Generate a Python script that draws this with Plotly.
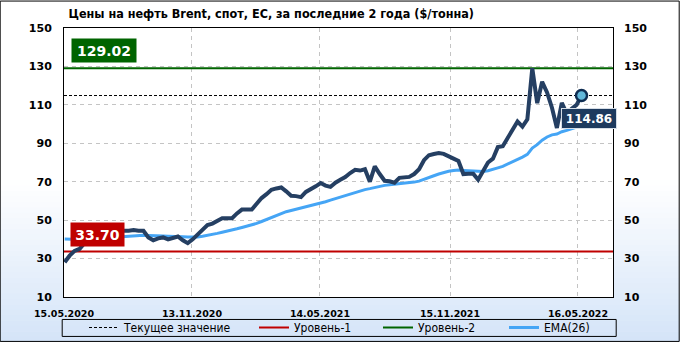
import plotly.graph_objects as go
import pandas as pd

# ---------------- data ----------------
title_text = "Цены на нефть Brent, спот, ЕС, за последние 2 года ($/тонна)"
dates = pd.date_range("2020-05-16", periods=106, freq="7D")
price = [28.1, 31.5, 34.0, 35.0, 38.0, 41.0, 43.0, 44.0, 44.0, 43.5,
         44.0, 44.5, 44.5, 44.5, 44.8, 44.5, 44.5, 41.0, 39.5, 40.5,
         41.0, 40.0, 41.0, 41.5, 39.5, 38.0, 40.0, 42.5, 45.0, 47.5,
         48.2, 49.5, 51.0, 51.0, 51.0, 53.5, 55.5, 55.5, 55.5, 58.5,
         61.5, 63.5, 65.8, 66.5, 67.0, 65.0, 62.7, 62.5, 62.0, 64.7,
         66.0, 67.6, 69.3, 68.0, 67.3, 69.5, 71.0, 72.4, 74.5, 76.2,
         75.8, 76.5, 70.0, 78.0, 74.0, 70.5, 70.2, 69.5, 72.0, 72.2,
         72.5, 74.0, 76.5, 81.2, 83.8, 84.4, 84.9, 84.5, 83.5, 82.0,
         80.8, 74.0, 74.2, 74.2, 71.0, 76.0, 80.0, 82.0, 88.0, 88.5,
         92.7, 97.0, 101.3, 98.7, 102.5, 129.02, 110.9, 122.0, 116.5, 108.5,
         98.0, 111.0, 105.5, 108.0, 110.0, 114.86]
ema26 = [40.2, 40.0, 39.9, 39.9, 39.9, 40.0, 40.2, 40.4, 40.7, 40.9,
         41.1, 41.3, 41.5, 41.6, 41.8, 42.0, 42.1, 42.0, 41.8, 41.7,
         41.7, 41.6, 41.6, 41.5, 41.4, 41.2, 41.1, 41.2, 41.6, 42.0,
         42.6, 43.1, 43.7, 44.2, 44.8, 45.5, 46.2, 46.8, 47.4, 48.3,
         49.3, 50.3, 51.4, 52.6, 53.6, 54.4, 55.0, 55.6, 56.3, 56.9,
         57.5, 58.2, 59.0, 59.6, 60.4, 61.2, 62.0, 62.8, 63.7, 64.5,
         65.3, 65.9, 66.4, 67.0, 67.7, 68.1, 68.4, 68.6, 68.8, 69.1,
         69.4, 69.8, 70.3, 71.1, 72.1, 73.1, 74.0, 74.8, 75.4, 75.8,
         76.1, 75.9, 75.7, 75.5, 75.2, 75.3, 75.7, 76.3, 77.2, 78.0,
         79.1, 80.4, 81.7, 82.8, 84.2, 87.5, 89.3, 91.6, 93.3, 94.4,
         94.8, 96.0, 96.7, 97.4, 98.2, 99.2]
level1 = 33.70
level2 = 129.02
current = 114.86
tick_dates = ["2020-05-15", "2020-11-13", "2021-05-14", "2021-11-15", "2022-05-16"]
tick_labels = ["15.05.2020", "13.11.2020", "14.05.2021", "15.11.2021", "16.05.2022"]
y_ticks = list(range(10, 151, 20))
x_range = ["2020-05-15", "2022-07-04 19:00"]
names = ["Текущее значение", "Уровень-1", "Уровень-2", "EMA(26)"]

# ---------------- layout geometry ----------------
W, H = 680, 342
L, R, T, B = 64.3, 66.7, 27.5, 45
PW, PH = W - L - R, H - T - B


def px(x):
    return (x - L) / PW


def py(y):
    return (H - B - y) / PH


NAVY = "#253f62"
EMA_C = "#45a5f5"
RED = "#c00000"
GREEN = "#006400"
FONT = "DejaVu Sans"
FONT_C = "DejaVu Sans Condensed"

fig = go.Figure()

fig.add_trace(go.Scatter(x=x_range, y=[level1, level1], mode="lines",
                         line=dict(color=RED, width=2), name=names[1], legend="legend2"))
fig.add_trace(go.Scatter(x=x_range, y=[level2, level2], mode="lines",
                         line=dict(color=GREEN, width=2), name=names[2], legend="legend3"))
fig.add_trace(go.Scatter(x=x_range, y=[current, current], mode="lines",
                         line=dict(color="black", width=1, dash="3px,2px"),
                         name=names[0], legend="legend"))
fig.add_trace(go.Scatter(x=dates, y=ema26, mode="lines",
                         line=dict(color=EMA_C, width=3), name=names[3], legend="legend4"))
fig.add_trace(go.Scatter(x=dates, y=price, mode="lines",
                         line=dict(color=NAVY, width=4), showlegend=False))
fig.add_trace(go.Scatter(x=[dates[-1]], y=[price[-1]], mode="markers",
                         marker=dict(size=11, color="#62b8da", line=dict(color="#0f2d52", width=2.5)),
                         showlegend=False, cliponaxis=False))
# invisible trace to activate the right-side axis
fig.add_trace(go.Scatter(x=[x_range[0]], y=[10], yaxis="y2", mode="markers",
                         marker=dict(opacity=0), showlegend=False, hoverinfo="skip"))

# ---------------- shapes ----------------
shapes = []
g_top, g_bot = 180, 342
n = 30
c0 = (255, 255, 255)
c1 = (212, 228, 248)
for i in range(n):
    ya = g_top + (g_bot - g_top) * i / n
    yb = g_top + (g_bot - g_top) * (i + 1) / n
    t = (i + 0.5) / n
    c = tuple(round(c0[k] + (c1[k] - c0[k]) * t) for k in range(3))
    shapes.append(dict(type="rect", xref="paper", yref="paper", layer="below",
                       x0=px(0), x1=px(W), y0=py(yb + 0.5), y1=py(ya),
                       fillcolor="rgb(%d,%d,%d)" % c, line=dict(width=0)))
shapes.append(dict(type="rect", xref="paper", yref="paper", layer="below",
                   x0=0, x1=1, y0=0, y1=1, fillcolor="white", line=dict(width=0)))
# legend frame
shapes.append(dict(type="rect", xref="paper", yref="paper", layer="above",
                   x0=px(62.5), x1=px(616.5), y0=py(336.5), y1=py(319.5),
                   line=dict(color="black", width=1)))
# outer frame
shapes.append(dict(type="rect", xref="paper", yref="paper", layer="above",
                   x0=px(0.5), x1=px(679.5), y0=py(341.5), y1=py(0.5),
                   line=dict(color="black", width=1)))

# ---------------- annotations ----------------
annotations = [
    dict(text="%.2f" % level2, xref="paper", yref="y", x=px(71), y=level2,
         xanchor="left", yanchor="bottom", yshift=5, showarrow=False,
         font=dict(family=FONT, size=14, color="white", weight="bold"), bgcolor=GREEN,
         borderpad=3, width=58, height=17),
    dict(text="%.2f" % level1, xref="paper", yref="y", x=px(70), y=level1,
         xanchor="left", yanchor="bottom", yshift=4, showarrow=False,
         font=dict(family=FONT, size=14, color="white", weight="bold"), bgcolor=RED,
         borderpad=3, width=47, height=17),
    dict(text="%.2f" % current, xref="paper", yref="y", x=px(561), y=current,
         xanchor="left", yanchor="top", yshift=-12, showarrow=False,
         font=dict(family=FONT, size=12, color="white", weight="bold"), bgcolor="#1d3a5e",
         bordercolor="#d5dde6", borderwidth=1, borderpad=2, width=50, height=15),
]

# ---------------- legends ----------------
def leg(text_x):
    return dict(orientation="h", x=(text_x - 42) / W, xanchor="left", xref="container",
                y=1 - 327.5 / H, yanchor="middle", yref="container",
                bgcolor="rgba(0,0,0,0)", borderwidth=0,
                font=dict(family=FONT_C, size=12, color="black"), itemwidth=30)


axis_font = dict(family=FONT, size=11, color="black", weight="bold")

fig.update_layout(
    width=W, height=H,
    margin=dict(l=L, r=R, t=T, b=B, pad=0, autoexpand=False),
    paper_bgcolor="white", plot_bgcolor="white",
    title=dict(text=title_text, x=68.5 / W, xanchor="left", xref="container",
               y=1 - 13.5 / H, yanchor="middle", yref="container",
               font=dict(family=FONT_C, size=12.5, color="black", weight="bold")),
    showlegend=True,
    legend=leg(126), legend2=leg(296), legend3=leg(420), legend4=leg(546),
    shapes=shapes, annotations=annotations,
    xaxis=dict(type="date", range=x_range, tickvals=tick_dates, ticktext=tick_labels,
               showgrid=True, gridcolor="#c4c4c4", griddash="4px,4px", gridwidth=1,
               showline=True, linecolor="black", linewidth=1, mirror=True,
               ticks="", ticklabelstandoff=8,
               tickfont=dict(family=FONT, size=9.5, color="black", weight="bold"), tickangle=0,
               zeroline=False),
    yaxis=dict(range=[10, 150], tickvals=y_ticks, showgrid=True, gridcolor="#c4c4c4",
               griddash="4px,4px", gridwidth=1, showline=True, linecolor="black",
               linewidth=1, mirror=True, ticks="", ticklabelstandoff=9,
               tickfont=axis_font, zeroline=False),
    yaxis2=dict(range=[10, 150], tickvals=y_ticks, overlaying="y", side="right",
                showgrid=False, showline=False, ticks="", ticklabelstandoff=10,
                tickfont=axis_font, zeroline=False),
)

fig.write_html("out.html")
